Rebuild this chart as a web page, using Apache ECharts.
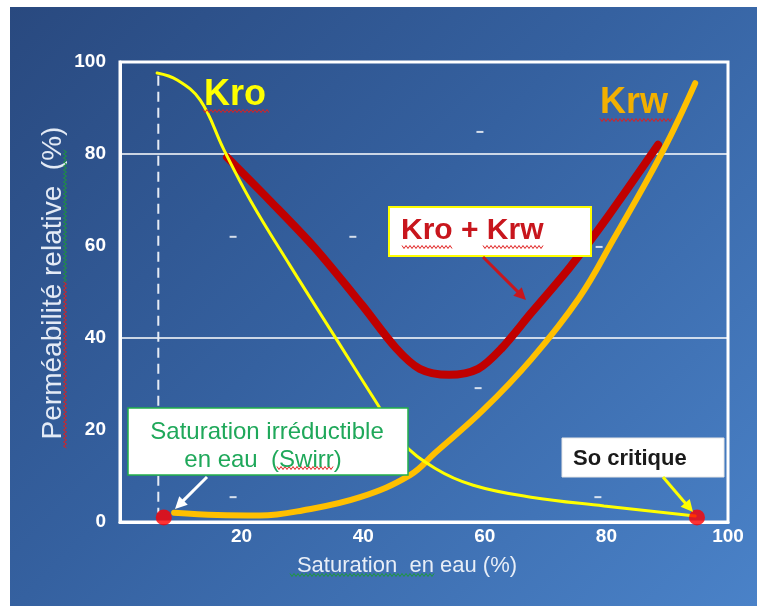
<!DOCTYPE html>
<html>
<head>
<meta charset="utf-8">
<script src="https://cdn.jsdelivr.net/npm/echarts@6/dist/echarts.min.js"></script>
<style>
html,body{margin:0;padding:0;background:#ffffff;}
#bg{position:absolute;left:10px;top:7px;width:747px;height:599px;
background:linear-gradient(135deg,#29497f 0%,#3561a0 45%,#4a82c8 100%);}
#chart{position:absolute;left:0;top:0;width:757px;height:606px;}
</style>
</head>
<body>
<div id="bg"></div>
<div id="chart"></div>
<script>
// ---- data ----
const xTicks = [20, 40, 60, 80, 100];
const yTicks = [0, 20, 40, 60, 80, 100];
const gridValues = [40, 80];

const kroX = [6.1, 9.4, 13.2, 17.1, 21.5, 27.9, 35.9, 42.3, 46.2, 51.8, 58.1, 67.6, 79.6, 94.6];
const kroY = [97.6, 96.1, 91.7, 80.9, 69.8, 55.9, 39.1, 25.7, 17.6, 11.7, 8.0, 5.4, 3.5, 1.3];

const krwX = [8.9, 16, 23, 30, 39.5, 47.7, 51.8, 59.7, 67.6, 75.5, 81.1, 89.3, 94.6];
const krwY = [2.0, 1.5, 1.4, 2.5, 5.4, 10.2, 15.0, 24.3, 35.3, 48.7, 61.3, 80.7, 95.4];

const sumX = [17.6, 24.7, 31.9, 39.8, 45.4, 49.3, 54.1, 58.9, 62.8, 67.6, 74.0, 80.3, 88.5];
const sumY = [79.3, 69.8, 59.8, 47.2, 37.8, 33.3, 32.0, 33.3, 37.8, 45.4, 55.4, 66.5, 82.0];

const swirrX = [6.3, 6.3];
const swirrY = [97, 2];

const endX = [7.2, 94.9];
const endY = [1, 1];

const dashX = [59.2, 18.6, 38.3, 78.8, 58.9, 18.6, 78.6];
const dashY = [84.8, 62.0, 62.0, 59.8, 29.1, 5.4, 5.4];

const pairs = (xs, ys) => xs.map((x, i) => [x, ys[i]]);
const FONT = 'Liberation Sans, Arial, sans-serif';

// wavy underline decoration (spell-check squiggle)
function zig(x1, x2, y, color, vertical) {
  const pts = [];
  let k = 0;
  for (let p = x1; p <= x2; p += 2, k++) {
    const o = (k % 2 ? 1.5 : -1.5);
    pts.push(vertical ? [y + o, p] : [p, y + o]);
  }
  return { type: 'polyline', z: 100, silent: true, shape: { points: pts },
           style: { stroke: color, lineWidth: 1, fill: null } };
}
function arrow(x1, y1, x2, y2, color, w) {
  const dx = x2 - x1, dy = y2 - y1, L = Math.hypot(dx, dy);
  const ux = dx / L, uy = dy / L, hl = 12, hw = 6;
  const bx = x2 - ux * hl, by = y2 - uy * hl;
  return [
    { type: 'line', z: 100, silent: true,
      shape: { x1: x1, y1: y1, x2: bx + ux * 2, y2: by + uy * 2 },
      style: { stroke: color, lineWidth: w } },
    { type: 'polygon', z: 100, silent: true,
      shape: { points: [[x2, y2], [bx - uy * hw, by + ux * hw], [bx + uy * hw, by - ux * hw]] },
      style: { fill: color } }
  ];
}

const chart = echarts.init(document.getElementById('chart'), null, { renderer: 'canvas' });

const graphics = [
  // axis titles
  { type: 'text', z: 100, silent: true, x: 53, y: 283, rotation: Math.PI / 2,
    style: { text: 'Perméabilité relative  (%)', font: 'normal 28px ' + FONT, fill: '#e3eaf5',
             textAlign: 'center', textVerticalAlign: 'middle' } },
  { type: 'text', z: 100, silent: true, x: 407, y: 566,
    style: { text: 'Saturation  en eau (%)', font: 'normal 22px ' + FONT, fill: '#e8eef7',
             textAlign: 'center', textVerticalAlign: 'middle' } },
  // curve labels
  { type: 'text', z: 100, silent: true, x: 204, y: 95,
    style: { text: 'Kro', font: 'bold 36px ' + FONT, fill: '#ffff00', textVerticalAlign: 'middle' } },
  { type: 'text', z: 100, silent: true, x: 600, y: 103,
    style: { text: 'Krw', font: 'bold 36px ' + FONT, fill: '#f2b000', textVerticalAlign: 'middle' } },
  // Kro + Krw box
  { type: 'rect', z: 100, silent: true, shape: { x: 389, y: 207, width: 202, height: 49 },
    style: { fill: '#ffffff', stroke: '#ffff00', lineWidth: 2 } },
  { type: 'text', z: 101, silent: true, x: 401, y: 231,
    style: { text: 'Kro + Krw', font: 'bold 30px ' + FONT, fill: '#c8161d', textVerticalAlign: 'middle' } },
  // Swirr box
  { type: 'rect', z: 100, silent: true, shape: { x: 128, y: 408, width: 280, height: 67 },
    style: { fill: '#ffffff', stroke: '#22b04b', lineWidth: 1.5 } },
  { type: 'text', z: 101, silent: true, x: 267, y: 432,
    style: { text: 'Saturation irréductible', font: 'normal 24px ' + FONT, fill: '#1fa85a',
             textAlign: 'center', textVerticalAlign: 'middle' } },
  { type: 'text', z: 101, silent: true, x: 263, y: 460,
    style: { text: 'en eau  (Swirr)', font: 'normal 24px ' + FONT, fill: '#1fa85a',
             textAlign: 'center', textVerticalAlign: 'middle' } },
  // So critique box
  { type: 'rect', z: 100, silent: true, shape: { x: 562, y: 438, width: 162, height: 39 },
    style: { fill: '#ffffff', stroke: '#e6e6e6', lineWidth: 1 } },
  { type: 'text', z: 101, silent: true, x: 573, y: 459,
    style: { text: 'So critique', font: 'bold 22px ' + FONT, fill: '#1a1a1a', textVerticalAlign: 'middle' } },
  // squiggles
  zig(203, 270, 111, '#e0201f'),
  zig(600, 672, 120, '#e0201f'),
  zig(402, 452, 247, '#e0201f'),
  zig(483, 543, 247, '#e0201f'),
  zig(277, 333, 468, '#e0201f'),
  zig(290, 435, 575, '#1f9a3a'),
  zig(150, 282, 65, '#1f9a3a', true),
  zig(282, 448, 65, '#e0201f', true)
].concat(
  arrow(483, 257, 526, 300, '#c8161d', 3),
  arrow(207, 477, 175, 509, '#ffffff', 3),
  arrow(663, 477, 693, 512, '#ffff00', 3)
);

const option = {
  backgroundColor: 'transparent',
  animation: false,
  grid: { left: 120, right: 29, top: 62, bottom: 84, show: true,
          borderColor: '#ffffff', borderWidth: 3, backgroundColor: 'transparent' },
  xAxis: {
    type: 'value', min: 0, max: 100, interval: 20,
    axisLine: { show: true, lineStyle: { color: '#ffffff', width: 3 } },
    axisTick: { show: false },
    splitLine: { show: false },
    axisLabel: { color: '#ffffff', fontFamily: FONT, fontWeight: 'bold', fontSize: 19, margin: 5,
                 formatter: v => (xTicks.indexOf(v) >= 0 ? String(v) : '') }
  },
  yAxis: [
    {
      type: 'value', min: 0, max: 100, interval: 20,
      axisLine: { show: true, lineStyle: { color: '#ffffff', width: 3 } },
      axisTick: { show: false },
      splitLine: { show: false },
      axisLabel: { color: '#ffffff', fontFamily: FONT, fontWeight: 'bold', fontSize: 19, margin: 14,
                   formatter: v => (yTicks.indexOf(v) >= 0 ? String(v) : '') }
    },
    {
      type: 'value', min: 0, max: 100, interval: gridValues[1] - gridValues[0], position: 'left',
      axisLine: { show: false }, axisTick: { show: false }, axisLabel: { show: false },
      splitLine: { show: true, lineStyle: { color: '#ffffff', width: 1.5 } }
    }
  ],
  series: [
    { name: 'Swirr', type: 'line', data: pairs(swirrX, swirrY), symbol: 'none', z: 3,
      lineStyle: { color: '#e6ecf5', width: 2, type: [10, 6] } },
    { name: 'marks', type: 'scatter', data: pairs(dashX, dashY), symbol: 'rect', symbolSize: [7, 2],
      itemStyle: { color: '#ffffff' }, z: 3 },
    { name: 'Kro + Krw', type: 'line', data: pairs(sumX, sumY), symbol: 'none', smooth: 0.3,
      lineStyle: { color: '#c00000', width: 8, cap: 'round' }, z: 4 },
    { name: 'Krw', type: 'line', data: pairs(krwX, krwY), symbol: 'none', smooth: 0.4,
      lineStyle: { color: '#ffc000', width: 6, cap: 'round' }, z: 5 },
    { name: 'Kro', type: 'line', data: pairs(kroX, kroY), symbol: 'none', smooth: 0.4,
      lineStyle: { color: '#ffff00', width: 3, cap: 'round' }, z: 6 },
    { name: 'points', type: 'scatter', data: pairs(endX, endY), symbol: 'circle', symbolSize: 16,
      itemStyle: { color: '#ff0000' }, z: 7, clip: false }
  ],
  graphic: graphics
};
chart.setOption(option);
</script>
</body>
</html>
